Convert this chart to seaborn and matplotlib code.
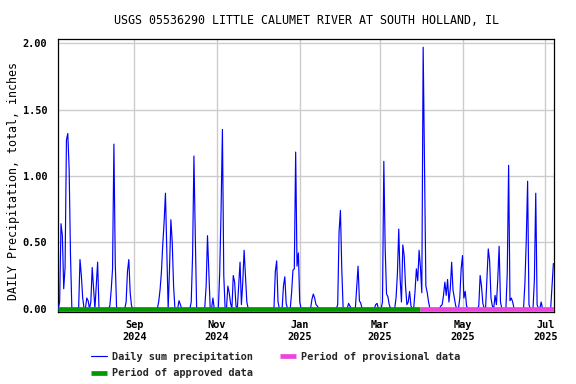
"""
USGS daily precipitation chart - Little Calumet River at South Holland, IL
"""
import pandas as pd
import matplotlib
matplotlib.use("Agg")
import matplotlib.pyplot as plt
import matplotlib.dates as mdates
import seaborn as sns

sns.set_theme(style="whitegrid")
plt.rcParams["font.family"] = ["DejaVu Sans Mono"]
plt.rcParams["font.weight"] = "bold"

TITLE = "USGS 05536290 LITTLE CALUMET RIVER AT SOUTH HOLLAND, IL"
YLABEL = "DAILY Precipitation, total, inches"

start_date = "2024-07-07"
end_date = "2025-07-07"

# days with rain (all other days are 0.00)
rain_dates = [
    "2024-07-08", "2024-07-09", "2024-07-10", "2024-07-11", "2024-07-12", "2024-07-13",
    "2024-07-14", "2024-07-15", "2024-07-16", "2024-07-23", "2024-07-24", "2024-07-25",
    "2024-07-28", "2024-07-29", "2024-07-31",
    "2024-08-01", "2024-08-02", "2024-08-04", "2024-08-05", "2024-08-14", "2024-08-15",
    "2024-08-16", "2024-08-17", "2024-08-18", "2024-08-26", "2024-08-27", "2024-08-28",
    "2024-08-29", "2024-08-30",
    "2024-09-19", "2024-09-20", "2024-09-21", "2024-09-22", "2024-09-23", "2024-09-24",
    "2024-09-25", "2024-09-27", "2024-09-28", "2024-09-29", "2024-09-30",
    "2024-10-04", "2024-10-05", "2024-10-13", "2024-10-14", "2024-10-15", "2024-10-16",
    "2024-10-23", "2024-10-24", "2024-10-25", "2024-10-26", "2024-10-29",
    "2024-11-03", "2024-11-04", "2024-11-05", "2024-11-06", "2024-11-09", "2024-11-10",
    "2024-11-11", "2024-11-13", "2024-11-14", "2024-11-15", "2024-11-17", "2024-11-18",
    "2024-11-19", "2024-11-20", "2024-11-21", "2024-11-22", "2024-11-23",
    "2024-12-14", "2024-12-15", "2024-12-16", "2024-12-20", "2024-12-21", "2024-12-22",
    "2024-12-26", "2024-12-27", "2024-12-28", "2024-12-29", "2024-12-30", "2024-12-31",
    "2025-01-01", "2025-01-10", "2025-01-11", "2025-01-12", "2025-01-13", "2025-01-14",
    "2025-01-29", "2025-01-30", "2025-01-31",
    "2025-02-01", "2025-02-06", "2025-02-07", "2025-02-12", "2025-02-13", "2025-02-14",
    "2025-02-15", "2025-02-26", "2025-02-27",
    "2025-03-03", "2025-03-04", "2025-03-05", "2025-03-06", "2025-03-07", "2025-03-08",
    "2025-03-13", "2025-03-14", "2025-03-15", "2025-03-16", "2025-03-17", "2025-03-18",
    "2025-03-19", "2025-03-20", "2025-03-21", "2025-03-22", "2025-03-23", "2025-03-24",
    "2025-03-27", "2025-03-28", "2025-03-29", "2025-03-30", "2025-03-31",
    "2025-04-01", "2025-04-02", "2025-04-03", "2025-04-04", "2025-04-05", "2025-04-06",
    "2025-04-15", "2025-04-16", "2025-04-17", "2025-04-18", "2025-04-19", "2025-04-20",
    "2025-04-21", "2025-04-22", "2025-04-23", "2025-04-24", "2025-04-25", "2025-04-26",
    "2025-04-29", "2025-04-30",
    "2025-05-01", "2025-05-02", "2025-05-03", "2025-05-04", "2025-05-13", "2025-05-14",
    "2025-05-15", "2025-05-16", "2025-05-19", "2025-05-20", "2025-05-21", "2025-05-22",
    "2025-05-23", "2025-05-25", "2025-05-26", "2025-05-27", "2025-05-28", "2025-05-29",
    "2025-06-03", "2025-06-04", "2025-06-05", "2025-06-06", "2025-06-07", "2025-06-16",
    "2025-06-17", "2025-06-18", "2025-06-19", "2025-06-23", "2025-06-24", "2025-06-25",
    "2025-06-28",
    "2025-07-06", "2025-07-07",
]
rain_inches = [
    0.05, 0.64, 0.55, 0.15, 0.31, 1.27,
    1.32, 1.05, 0.40, 0.37, 0.25, 0.08,
    0.08, 0.06, 0.05,
    0.31, 0.16, 0.18, 0.35, 0.02, 0.14,
    0.30, 1.24, 0.34, 0.05, 0.28, 0.37,
    0.12, 0.02,
    0.05, 0.14, 0.27, 0.48, 0.65, 0.87,
    0.44, 0.30, 0.67, 0.50, 0.17,
    0.06, 0.03, 0.05, 0.40, 1.15, 0.55,
    0.01, 0.17, 0.55, 0.28, 0.08,
    0.27, 0.74, 1.35, 0.25, 0.17, 0.12,
    0.04, 0.25, 0.20, 0.02, 0.18, 0.35,
    0.03, 0.20, 0.44, 0.25, 0.05,
    0.28, 0.36, 0.05, 0.17, 0.24, 0.04,
    0.12, 0.29, 0.30, 1.18, 0.32, 0.42,
    0.05, 0.07, 0.11, 0.08, 0.03, 0.02,
    0.03, 0.58, 0.74,
    0.30, 0.04, 0.02, 0.16, 0.32, 0.06,
    0.04, 0.03, 0.04,
    0.05, 1.11, 0.45, 0.11, 0.09, 0.03,
    0.08, 0.26, 0.60, 0.23, 0.05, 0.48,
    0.40, 0.17, 0.03, 0.05, 0.13, 0.02,
    0.13, 0.30, 0.21, 0.44, 0.31,
    0.12, 1.97, 1.10, 0.17, 0.12, 0.05,
    0.02, 0.03, 0.10, 0.20, 0.10, 0.22,
    0.05, 0.15, 0.35, 0.14, 0.08, 0.02,
    0.08, 0.30,
    0.40, 0.08, 0.13, 0.02, 0.02, 0.25,
    0.17, 0.04, 0.22, 0.45, 0.36, 0.08,
    0.02, 0.10, 0.03, 0.22, 0.47, 0.05,
    0.27, 1.08, 0.06, 0.08, 0.05, 0.19,
    0.51, 0.96, 0.03, 0.22, 0.87, 0.03,
    0.05,
    0.17, 0.34,
]

# approval status periods
period_labels = ["Period of approved data", "Period of provisional data"]
period_starts = ["2024-07-07", "2025-03-31"]
period_ends = ["2025-03-31", "2025-07-08"]
period_colors = ["#009900", "#ee44dd"]

y_ticks = [0.0, 0.5, 1.0, 1.5, 2.0]

days = pd.date_range(start_date, end_date, freq="D")
precip = pd.Series(0.0, index=days)
precip[pd.to_datetime(rain_dates)] = rain_inches
df = pd.DataFrame({"date": days, "precip": precip.values})

fig = plt.figure(figsize=(5.76, 3.84), dpi=100)
ax = fig.add_axes([0.1012, 0.1883, 0.8611, 0.7094])

sns.lineplot(data=df, x="date", y="precip", color="#0000ff", lw=0.85,
             ax=ax, label="Daily sum precipitation", zorder=3)

for lab, s, e, c in zip(period_labels, period_starts, period_ends, period_colors):
    ax.plot(pd.to_datetime([s, e]), [0, 0], color=c, lw=3.4,
            solid_capstyle="butt", label=lab, zorder=4)

ax.set_xlim(pd.Timestamp("2024-07-07"), pd.Timestamp("2025-07-07 16:00"))
ax.set_ylim(-0.023, 2.03)
ax.set_yticks(y_ticks)
ax.yaxis.set_major_formatter(plt.FormatStrFormatter("%.2f"))
ax.xaxis.set_major_locator(mdates.MonthLocator(bymonth=[1, 3, 5, 7, 9, 11]))
ax.xaxis.set_major_formatter(mdates.DateFormatter("%b\n%Y"))

ax.grid(True, color="#cccccc", lw=1.0)
ax.tick_params(axis="both", length=0, labelsize=7.4, colors="black")
ax.tick_params(axis="y", pad=8)
ax.tick_params(axis="x", pad=6)
for sp in ax.spines.values():
    sp.set_color("black")
    sp.set_linewidth(0.9)

ax.set_xlabel("")
ax.set_ylabel(YLABEL, fontsize=8.4, color="black")
ax.yaxis.set_label_coords(-0.077, 0.48)
ax.set_title(TITLE, fontsize=8.4, pad=11, color="black")

handles, labels = ax.get_legend_handles_labels()
ax.get_legend().remove()
fig.legend(handles, labels, ncol=2, loc="upper left",
           bbox_to_anchor=(90.7 / 576, 1 - 352 / 384), frameon=False,
           fontsize=7.4, borderpad=0, borderaxespad=0, handlelength=1.55,
           handletextpad=0.55, columnspacing=2.6, labelspacing=0.62)

fig.savefig("out.png", dpi=100)
plt.close(fig)
